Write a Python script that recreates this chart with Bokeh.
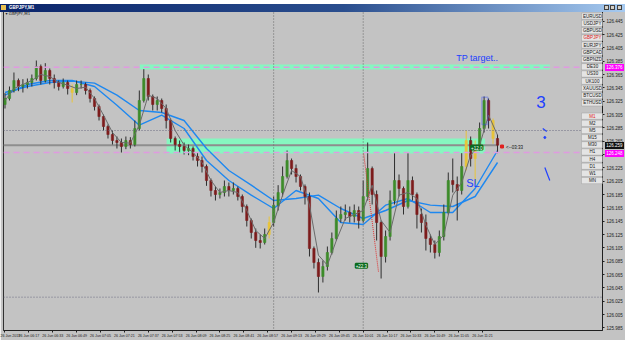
from bokeh.plotting import figure
from bokeh.layouts import column
from bokeh.models import FixedTicker, Span, BoxAnnotation, Label, PrintfTickFormatter, ColumnDataSource, Div
from bokeh.embed import file_html
from bokeh.resources import INLINE

# ---------------- data ----------------
symbol = "GBPJPY,M1"
# bar times as minutes after 06:01 (26 Jun 2019), one bar drawn every 3 minutes
bar_minutes = list(range(0, 333, 3))
first_open = 126.320
close = [126.329, 126.341, 126.356, 126.347, 126.350, 126.353, 126.359, 126.377, 126.356, 126.371,
         126.359, 126.353, 126.347, 126.353, 126.344, 126.338, 126.350, 126.350, 126.341, 126.329,
         126.317, 126.302, 126.287, 126.275, 126.266, 126.263, 126.257, 126.266, 126.260, 126.284,
         126.326, 126.359, 126.332, 126.320, 126.326, 126.314, 126.296, 126.269, 126.260, 126.257,
         126.251, 126.254, 126.242, 126.236, 126.227, 126.206, 126.191, 126.185, 126.188, 126.197,
         126.191, 126.194, 126.182, 126.167, 126.146, 126.128, 126.116, 126.113, 126.125, 126.143,
         126.169, 126.188, 126.212, 126.236, 126.224, 126.212, 126.197, 126.182, 126.104, 126.083,
         126.062, 126.077, 126.098, 126.119, 126.149, 126.155, 126.158, 126.152, 126.161, 126.146,
         126.182, 126.224, 126.185, 126.143, 126.092, 126.122, 126.176, 126.206, 126.194, 126.167,
         126.206, 126.185, 126.155, 126.143, 126.119, 126.110, 126.098, 126.122, 126.158, 126.206,
         126.200, 126.191, 126.227, 126.266, 126.239, 126.257, 126.284, 126.326, 126.296, 126.269,
         126.259]
high = [126.337, 126.347, 126.368, 126.359, 126.358, 126.359, 126.365, 126.386, 126.380, 126.382,
        126.374, 126.365, 126.356, 126.359, 126.356, 126.350, 126.356, 126.356, 126.353, 126.344,
        126.332, 126.320, 126.305, 126.290, 126.281, 126.272, 126.269, 126.272, 126.271, 126.296,
        126.341, 126.373, 126.365, 126.335, 126.332, 126.329, 126.320, 126.299, 126.272, 126.266,
        126.263, 126.260, 126.257, 126.248, 126.242, 126.230, 126.209, 126.197, 126.194, 126.206,
        126.203, 126.203, 126.197, 126.185, 126.170, 126.149, 126.134, 126.125, 126.134, 126.152,
        126.182, 126.199, 126.227, 126.251, 126.239, 126.230, 126.215, 126.200, 126.188, 126.107,
        126.089, 126.086, 126.107, 126.128, 126.161, 126.167, 126.170, 126.167, 126.170, 126.167,
        126.206, 126.263, 126.227, 126.191, 126.146, 126.131, 126.191, 126.247, 126.215, 126.197,
        126.247, 126.212, 126.188, 126.164, 126.155, 126.125, 126.116, 126.131, 126.170, 126.218,
        126.239, 126.212, 126.247, 126.281, 126.272, 126.266, 126.293, 126.332, 126.329, 126.299,
        126.275]
low = [126.314, 126.326, 126.338, 126.340, 126.338, 126.344, 126.347, 126.356, 126.350, 126.353,
       126.350, 126.344, 126.341, 126.344, 126.335, 126.323, 126.334, 126.344, 126.335, 126.323,
       126.311, 126.296, 126.281, 126.269, 126.260, 126.254, 126.248, 126.253, 126.254, 126.257,
       126.281, 126.323, 126.326, 126.311, 126.311, 126.308, 126.284, 126.263, 126.251, 126.248,
       126.245, 126.244, 126.236, 126.227, 126.218, 126.198, 126.182, 126.176, 126.179, 126.182,
       126.182, 126.185, 126.176, 126.158, 126.137, 126.119, 126.105, 126.104, 126.110, 126.119,
       126.137, 126.161, 126.182, 126.209, 126.215, 126.203, 126.191, 126.170, 126.092, 126.074,
       126.038, 126.053, 126.071, 126.095, 126.116, 126.143, 126.146, 126.143, 126.143, 126.134,
       126.143, 126.176, 126.170, 126.116, 126.059, 126.083, 126.116, 126.170, 126.182, 126.155,
       126.164, 126.176, 126.134, 126.128, 126.101, 126.098, 126.089, 126.092, 126.116, 126.155,
       126.188, 126.146, 126.185, 126.221, 126.227, 126.201, 126.251, 126.278, 126.284, 126.261,
       126.247]
# bars the terminal paints yellow (index into the drawn bars)
yellow_bars = [15, 59, 103, 105, 109]
# fast (grey) moving average, read every 2nd drawn bar
fast_ma = [126.326, 126.344, 126.350, 126.356, 126.365, 126.362, 126.353, 126.349, 126.344, 126.346,
           126.329, 126.304, 126.278, 126.263, 126.262, 126.289, 126.334, 126.329, 126.314, 126.281,
           126.259, 126.248, 126.233, 126.206, 126.188, 126.191, 126.188, 126.161, 126.131, 126.119,
           126.143, 126.184, 126.221, 126.212, 126.169, 126.094, 126.079, 126.116, 126.149, 126.155,
           126.161, 126.199, 126.146, 126.128, 126.184, 126.188, 126.179, 126.139, 126.110, 126.124,
           126.184, 126.203, 126.244, 126.259, 126.304, 126.274]
# two slow (blue) moving averages, read every 5th drawn bar
ma_blue_1 = [126.334, 126.350, 126.356, 126.356, 126.347, 126.319, 126.289, 126.304, 126.284, 126.236,
             126.206, 126.184, 126.164, 126.191, 126.179, 126.143, 126.140, 126.169, 126.179, 126.158,
             126.158, 126.194, 126.251]
ma_blue_2 = [126.338, 126.347, 126.353, 126.355, 126.352, 126.334, 126.311, 126.308, 126.296, 126.254,
             126.221, 126.199, 126.176, 126.179, 126.184, 126.164, 126.149, 126.161, 126.176, 126.169,
             126.167, 126.182, 126.233]

time_ticks = [0, 16, 32, 48, 64, 80, 96, 112, 128, 144, 160, 176, 192, 208, 224, 240, 256, 272, 288, 304, 320]
time_labels = ["26 Jun 2019", "26 Jun 06:17", "26 Jun 06:33", "26 Jun 06:49", "26 Jun 07:05",
               "26 Jun 07:21", "26 Jun 07:37", "26 Jun 07:53", "26 Jun 08:09", "26 Jun 08:25",
               "26 Jun 08:41", "26 Jun 08:57", "26 Jun 09:13", "26 Jun 09:29", "26 Jun 09:45",
               "26 Jun 10:01", "26 Jun 10:17", "26 Jun 10:33", "26 Jun 10:49", "26 Jun 11:05",
               "26 Jun 11:21"]
price_labels = ["126.445", "126.425", "126.405", "126.385", "126.365", "126.345", "126.325", "126.305",
                "126.285", "126.265", "126.245", "126.225", "126.205", "126.185", "126.165", "126.145",
                "126.125", "126.105", "126.085", "126.065", "126.045", "126.025", "126.005", "125.985"]

# chart objects (time in minutes, price)
tp_zone = dict(left=90.3, right=365.0, top=126.380, bottom=126.3725)
sr_zone = dict(left=108.3, right=321.7, top=126.269, bottom=126.2465)
tp_level = 126.376
sl_level = 126.248
dotted_levels = [126.281, 126.031]
vlines = [180, 240]
bid = close[-1]

sym_buttons = ["EURUSD", "USDJPY", "GBPUSD", "GBPJPY", "EURJPY", "GBPCAD", "GBPNZD",
               "DE30", "US30", "UK100", "XAUUSD", "BTCUSD", "ETHUSD"]
tf_buttons = ["M1", "M2", "M5", "M15", "M30", "H1", "H4", "D1", "W1", "MN"]
active = {"GBPJPY", "M1"}

# ---------------- styling / geometry ----------------
BG = "#c3c3c3"
BULL = "#3d8c2a"
BEAR = "#7d1c1c"
YEL = "#e8c43a"
WICK = "#2e2e2e"
BLUE_TXT = "#2040ff"
TOP = 8            # height of the window title bar above the chart canvas
Y0, Y1 = 125.981, 126.4625
FRAME_TOP, FRAME_BOTTOM_BORDER = 1, 10
CANVAS_H = 340 - TOP

opens = [first_open] + close[:-1]
body_col = [BULL if c >= o else BEAR for o, c in zip(opens, close)]
wick_col = [WICK] * len(close)
for k in yellow_bars:
    body_col[k] = YEL
    wick_col[k] = YEL
src = ColumnDataSource(dict(
    t=bar_minutes, o=opens, c=close, h=high, l=low,
    top=[max(a, b) for a, b in zip(opens, close)],
    bot=[min(a, b) for a, b in zip(opens, close)],
    col=body_col, wcol=wick_col,
))

p = figure(width=625, height=CANVAS_H, x_range=(-1.0, 400.33), y_range=(Y0, Y1),
           output_backend="svg", toolbar_location=None, y_axis_location="right",
           min_border_left=3, min_border_right=20, min_border_top=FRAME_TOP,
           min_border_bottom=FRAME_BOTTOM_BORDER)
p.background_fill_color = BG
p.border_fill_color = BG
p.grid.visible = False
p.outline_line_color = "#303030"

p.yaxis.ticker = FixedTicker(ticks=[float(s) for s in price_labels])
p.yaxis.formatter = PrintfTickFormatter(format="%.3f")
p.xaxis.ticker = FixedTicker(ticks=time_ticks)
p.xaxis.major_label_overrides = {t: s for t, s in zip(time_ticks, time_labels)}
p.xaxis.major_label_text_align = "left"
for ax in (p.xaxis, p.yaxis):
    ax.major_label_text_font = "Liberation Sans"
    ax.major_label_text_color = "#202020"
    ax.major_tick_in = 0
    ax.major_tick_out = 2
    ax.minor_tick_line_color = None
    ax.axis_line_color = "#202020"
    ax.major_tick_line_color = "#202020"
    ax.major_label_standoff = 1
p.yaxis.major_label_text_font_size = "4.5px"
p.xaxis.major_label_text_font_size = "3.6px"
p.yaxis.major_label_standoff = 2

# zones (behind price)
p.quad(left=[tp_zone["left"], sr_zone["left"]], right=[tp_zone["right"], sr_zone["right"]],
       top=[tp_zone["top"], sr_zone["top"]], bottom=[tp_zone["bottom"], sr_zone["bottom"]],
       fill_color="#86f7c0", line_color=None)

# horizontal / vertical lines
for lv in (tp_level, sl_level):
    p.add_layout(Span(location=lv, dimension="width", line_color="#e09ae0", line_dash="6 4", line_width=1.5))
for lv in dotted_levels:
    p.add_layout(Span(location=lv, dimension="width", line_color="#6a6a80", line_dash="1 2", line_width=1))
for vl in vlines:
    p.add_layout(Span(location=vl, dimension="height", line_color="#6a6a6a", line_dash="1 2", line_width=1))
# grey horizontal line at the current price, drawn up to the last bar
p.line([-1.0, bar_minutes[-1]], [bid, bid], line_color="#8e8e8e", line_width=2)

# moving averages
p.line(bar_minutes[::5], ma_blue_2, line_color="#1e88f0", line_width=1.4)
p.line(bar_minutes[::5], ma_blue_1, line_color="#1e88f0", line_width=1.4)

# candles
p.segment(x0="t", y0="l", x1="t", y1="h", source=src, line_color="wcol", line_width=1)
p.vbar(x="t", width=1.5, top="top", bottom="bot", source=src, fill_color="col", line_color="col", line_width=0.6)

p.line(bar_minutes[::2], fast_ma, line_color="#6a6a6a", line_width=1)

# trade arrow
p.line([240.3, 250.3], [126.2465, 126.068], line_color="#e03030", line_dash="1 1", line_width=1)

# annotations
p.add_layout(BoxAnnotation(left=319.5, right=323.5, top=126.331, bottom=126.290,
                           fill_alpha=0, line_color="#2040ff", line_width=1.5))
p.add_layout(Label(x=302.3, y=126.3905, text="TP target..", text_color=BLUE_TXT,
                   text_font_size="9px", text_baseline="middle", text_font="Liberation Sans"))
p.add_layout(Label(x=356.0, y=126.324, text="3", text_color=BLUE_TXT,
                   text_font_size="17px", text_baseline="middle", text_font="Liberation Sans"))
p.add_layout(Label(x=309.0, y=126.203, text="SL", text_color=BLUE_TXT,
                   text_font_size="11px", text_baseline="middle", text_font="Liberation Sans"))
p.line([360.3, 363.0], [126.284, 126.2795], line_color="#2040ff", line_width=1.2)
p.line([361.7, 365.0], [126.2255, 126.206], line_color="#2040ff", line_width=1.2)
p.scatter([361.7], [126.2705], size=2, color="#2040ff")
p.scatter([333.0], [126.257], size=3, color="#e02020", marker="square")
p.add_layout(Label(x=335.7, y=126.2555, text="<--03:33", text_color="#101010",
                   text_font_size="4.5px", text_baseline="middle", text_font="Liberation Sans"))
for (tx, ty, tt) in [(312.3, 126.2555, "+12.0"), (235.0, 126.078, "+22.3")]:
    p.add_layout(Label(x=tx, y=ty, text=tt, text_color="white", background_fill_color="#0b6b1e",
                       border_line_color="#0b6b1e", border_line_width=2,
                       text_font_size="4.5px", text_baseline="middle", text_font="Liberation Sans"))

p.add_layout(Label(x=5, y=13 - TOP, x_units="canvas", y_units="canvas", text="▾ " + symbol,
                   text_color="#202020", text_font_size="4px", text_baseline="middle",
                   text_font="DejaVu Sans"))


def button(cy, name):
    cy = cy - TOP
    p.add_layout(BoxAnnotation(left=581, right=603, top=cy - 3.1, bottom=cy + 3.1,
                               left_units="canvas", right_units="canvas", top_units="canvas",
                               bottom_units="canvas", fill_color="#e4e4e4", fill_alpha=1,
                               line_color="#505050", line_width=0.6))
    p.add_layout(Label(x=592, y=cy, x_units="canvas", y_units="canvas", text=name,
                       text_color="#e02020" if name in active else "#202020",
                       text_font_size="4.5px", text_align="center", text_baseline="middle",
                       text_font="Liberation Sans"))


for i, nm in enumerate(sym_buttons):
    button(15.7 + 7.22 * i, nm)
for j, nm in enumerate(tf_buttons):
    button(115.7 + 7.15 * j, nm)

# ---------------- window chrome (HTML) ----------------
frame_h = CANVAS_H - FRAME_TOP - FRAME_BOTTOM_BORDER
TAG_SHIFT = 6.5   # half tag height plus the offset of the HTML layer


def page_y(price):
    return TOP + FRAME_TOP + (Y1 - price) / (Y1 - Y0) * frame_h


tag = ('<span style="position:absolute;left:605px;top:{:.1f}px;width:19px;height:7px;background:{};'
       'color:#ffffff;font-size:4.5px;line-height:7px;font-family:\'Liberation Sans\';'
       'text-align:center">{}</span>')
tags = "".join(tag.format(page_y(lv) - TAG_SHIFT, colr, "%.3f" % lv)
               for lv, colr in ((tp_level, "#ff00ff"), (sl_level, "#ff00ff"), (bid, "#111111")))

btn = ('<span style="position:absolute;top:1px;left:{}px;width:5px;height:5px;'
       'background:#d4d0c8;border:1px solid #404040;box-sizing:border-box"></span>')
title_html = (
    '<div style="position:relative;width:625px;height:8px;overflow:visible">'
    '<div style="position:absolute;left:0;top:0;width:625px;height:8px;'
    'background:linear-gradient(90deg,#0a246a 0%,#2a4e8e 55%,#a6caf0 100%)"></div>'
    '<span style="position:absolute;left:1px;top:1px;width:5px;height:5px;background:#e8c050"></span>'
    '<span style="position:absolute;left:9px;top:0;line-height:7px;font-size:4.5px;font-weight:bold;'
    'font-family:\'Liberation Sans\';color:#ffffff;white-space:nowrap">' + symbol + '</span>'
    + btn.format(604) + btn.format(610) + btn.format(617) + tags + '</div>'
)
bar = Div(text=title_html, width=625, height=TOP, margin=0,
          styles={"margin": "0", "padding": "0", "overflow": "visible",
                  "position": "relative", "z-index": "10"})

layout = column(bar, p, spacing=0, margin=0)
open("out.html", "w").write(file_html(layout, INLINE))
